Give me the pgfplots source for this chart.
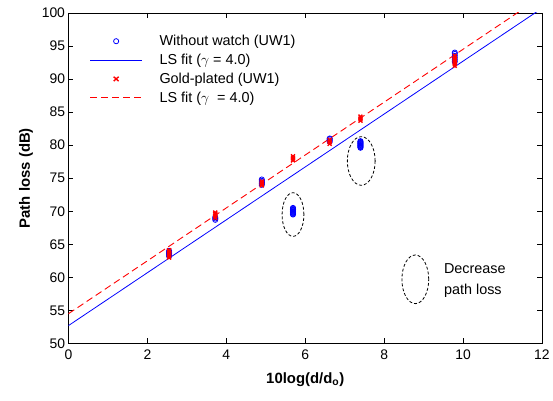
\documentclass[border=0pt]{standalone}
\usepackage{pgfplots}
\pgfplotsset{compat=1.18}
\usepackage{fontspec}
\setmainfont{Liberation Sans}
\begin{document}
\begin{tikzpicture}
\begin{axis}[
  scale only axis, width=477pt, height=333pt,
  xmin=0, xmax=12, ymin=50, ymax=100,
  xtick={0,2,...,12}, ytick={50,55,...,100},
  tick align=inside, major tick length=5pt,
  tick style={black, line width=0.5pt},
  axis line style={black, line width=0.6pt},
  ticklabel style={font=\fontsize{14}{16}\selectfont},
  xticklabel style={yshift=-3pt},
  /pgf/number format/assume math mode=true,
  xlabel={\textbf{10log(d/d\textsubscript{o})}},
  ylabel={\textbf{Path loss (dB)}},
  label style={font=\fontsize{15}{17}\selectfont},
  xlabel style={yshift=-6pt},
  ylabel style={yshift=2pt},
  legend style={draw=none, fill=none, at={(0.038,0.945)}, anchor=north west,
    font=\fontsize{14.5}{17}\selectfont, row sep=3pt,
    legend cell align=left,
    /tikz/every odd column/.append style={column sep=15pt}},
  clip=true,
]
\addplot[only marks, mark=o, blue, mark size=2.6pt, line width=0.8pt,
  legend image code/.code={\draw[blue, line width=0.8pt] (26pt,0pt) circle (2.6pt); \path (0pt,0pt) (52pt,0pt);}] coordinates {
(2.55,63.2)(2.55,63.4)(2.55,63.6)(2.55,63.8)(2.55,64.0)
(3.72,68.7)(3.72,68.9)(3.72,69.1)
(4.90,74.0)(4.90,74.2)(4.90,74.4)(4.90,74.6)(4.90,74.8)
(5.69,69.5)(5.69,69.6)(5.69,69.7)(5.69,69.8)(5.69,69.9)(5.69,70.0)(5.69,70.1)(5.69,70.2)(5.69,70.3)(5.69,70.4)(5.69,70.5)
(6.62,80.5)(6.62,80.7)(6.62,80.9)(6.62,81.0)
(7.40,79.6)(7.40,79.7)(7.40,79.8)(7.40,79.9)(7.40,80.0)(7.40,80.1)(7.40,80.2)(7.40,80.3)(7.40,80.4)(7.40,80.5)(7.40,80.6)
(9.79,92.6)(9.79,92.9)(9.79,93.2)(9.79,93.5)(9.79,93.8)(9.79,94.0)
};
\addlegendentry{Without watch (UW1)}
\addplot[blue, line width=0.8pt,
  legend image code/.code={\draw[blue, line width=0.8pt] (0pt,0pt) -- (52pt,0pt);}] coordinates {(0,52.7)(12,100.7)};
\addlegendentry{LS fit ($\gamma$ = 4.0)}
\addplot[only marks, mark=x, red, mark size=2.8pt, line width=1.4pt,
  legend image code/.code={\draw[red, line width=1.4pt] (23.5pt,-2.2pt) -- (28.5pt,2.2pt) (23.5pt,2.2pt) -- (28.5pt,-2.2pt); \path (0pt,0pt) (52pt,0pt);}] coordinates {
(2.55,63.0)(2.55,63.3)(2.55,63.6)(2.55,63.9)(2.55,64.1)
(3.72,69.0)(3.72,69.3)(3.72,69.6)(3.72,69.8)
(4.90,73.9)(4.90,74.1)(4.90,74.3)(4.90,74.5)
(5.69,77.7)(5.69,78.0)(5.69,78.3)
(6.62,80.2)(6.62,80.5)(6.62,80.8)
(7.40,83.7)(7.40,84.0)(7.40,84.3)
(9.79,92.0)(9.79,92.3)(9.79,92.6)(9.79,92.9)(9.79,93.2)(9.79,93.5)
};
\addlegendentry{Gold-plated (UW1)}
\addplot[red, line width=0.9pt, dash pattern=on 7pt off 4pt,
  legend image code/.code={\draw[color=red, line width=1.1pt, dash pattern=on 7pt off 4pt] (0pt,0.5pt) -- (52pt,0.5pt);}] coordinates {(0,54.5)(12,102.5)};
\addlegendentry{LS fit ($\gamma$\ \ = 4.0)}
% annotations
\draw[black, dash pattern=on 3pt off 2pt, line width=0.8pt] (axis cs:5.69,69.5) ellipse [x radius=11pt, y radius=22pt];
\draw[black, dash pattern=on 3pt off 2pt, line width=0.8pt] (axis cs:7.42,77.6) ellipse [x radius=14pt, y radius=24.5pt];
\draw[black, dash pattern=on 3pt off 2pt, line width=0.8pt] (axis cs:8.79,59.7) ellipse [x radius=13.5pt, y radius=24.5pt];
\node[anchor=west, align=left, font=\fontsize{14.5}{21}\selectfont] at (axis cs:9.43,59.5) {Decrease\\path loss};
\end{axis}
\path (current axis.south west) ++(-69pt,-57pt) coordinate (bbsw);
\path (current axis.north east) ++(7pt,13pt) coordinate (bbne);
\useasboundingbox (bbsw) rectangle (bbne);
\end{tikzpicture}
\end{document}
